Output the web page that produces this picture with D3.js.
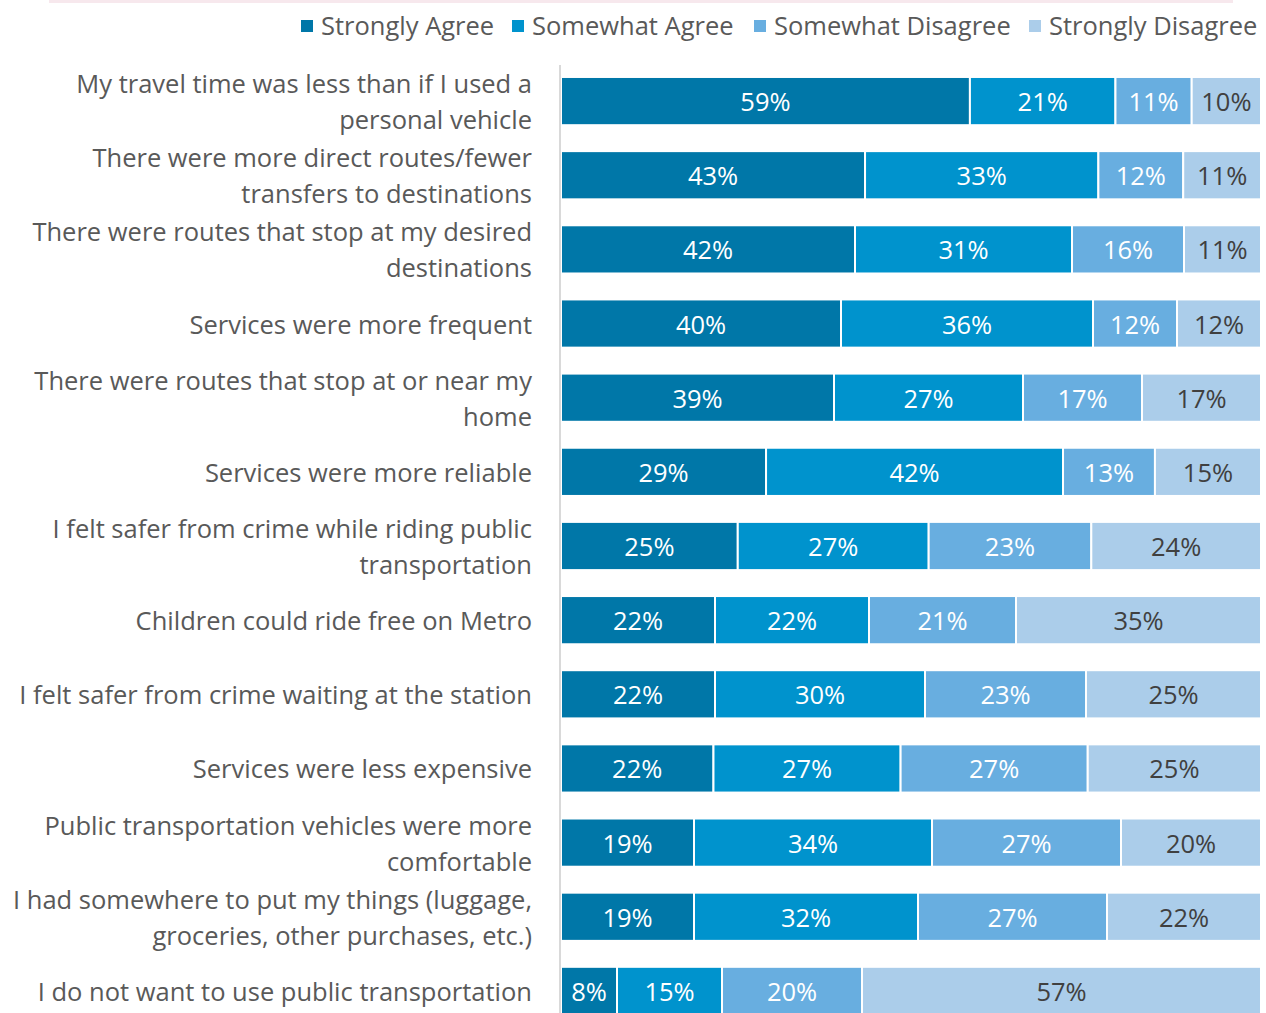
<!DOCTYPE html>
<html>
<head>
<meta charset="utf-8">
<script src="https://cdn.jsdelivr.net/npm/d3@7"></script>
<style>
  html, body { margin: 0; padding: 0; background: #fff; }
  svg { display: block; }
  text { font-family: "Open Sans", sans-serif; }
</style>
</head>
<body>
<svg id="chart" width="1266" height="1013"></svg>
<script>
// ---- data ----
const categories = [
  "My travel time was less than if I used a\npersonal vehicle",
  "There were more direct routes/fewer\ntransfers to destinations",
  "There were routes that stop at my desired\ndestinations",
  "Services were more frequent",
  "There were routes that stop at or near my\nhome",
  "Services were more reliable",
  "I felt safer from crime while riding public\ntransportation",
  "Children could ride free on Metro",
  "I felt safer from crime waiting at the station",
  "Services were less expensive",
  "Public transportation vehicles were more\ncomfortable",
  "I had somewhere to put my things (luggage,\ngroceries, other purchases, etc.)",
  "I do not want to use public transportation"
];
const seriesNames = ["Strongly Agree", "Somewhat Agree", "Somewhat Disagree", "Strongly Disagree"];
const stronglyAgree    = [59, 43, 42, 40, 39, 29, 25, 22, 22, 22, 19, 19, 8];
const somewhatAgree    = [21, 33, 31, 36, 27, 42, 27, 22, 30, 27, 34, 32, 15];
const somewhatDisagree = [11, 12, 16, 12, 17, 13, 23, 21, 23, 27, 27, 27, 20];
const stronglyDisagree = [10, 11, 11, 12, 17, 15, 24, 35, 25, 25, 20, 22, 57];
const colors = ["#0077a8", "#0093cd", "#68aee0", "#abcdea"];
const labelColors = ["#ffffff", "#ffffff", "#ffffff", "#404040"];

// ---- build table ----
const table = categories.map((c, i) => ({
  category: c,
  "Strongly Agree": stronglyAgree[i],
  "Somewhat Agree": somewhatAgree[i],
  "Somewhat Disagree": somewhatDisagree[i],
  "Strongly Disagree": stronglyDisagree[i]
}));

const stack = d3.stack().keys(seriesNames).offset(d3.stackOffsetExpand);
const layers = stack(table);

const svg = d3.select("#chart");
const plotLeft = 561, plotRight = 1261;
const FS = 25.5;

const x = d3.scaleLinear().domain([0, 1]).range([plotLeft, plotRight]);
const y = d3.scaleBand().domain(categories).range([64, 1028])
  .paddingInner(0.35).paddingOuter(0.175);

// top decorative band
svg.append("rect").attr("x", 49).attr("y", 0).attr("width", 1184).attr("height", 3)
  .attr("fill", "#f7e8ed");

// bars
const g = svg.append("g");
layers.forEach((layer, si) => {
  const lg = g.append("g");
  lg.selectAll("rect").data(layer).join("rect")
    .attr("x", d => x(d[0]))
    .attr("y", d => y(d.data.category))
    .attr("width", d => Math.max(0, x(d[1]) - x(d[0])))
    .attr("height", y.bandwidth())
    .attr("fill", colors[si])
    .attr("stroke", "#ffffff")
    .attr("stroke-width", 2);
  lg.selectAll("text").data(layer).join("text")
    .attr("x", d => (x(d[0]) + x(d[1])) / 2)
    .attr("y", d => y(d.data.category) + y.bandwidth() / 2)
    .attr("text-anchor", "middle")
    .attr("dominant-baseline", "central")
    .attr("font-size", FS)
    .attr("fill", labelColors[si])
    .text(d => d.data[seriesNames[si]] + "%");
});

// axis line (category axis)
const yAxis = d3.axisLeft(y).tickSize(0).tickFormat("");
const ax = svg.append("g").attr("transform", `translate(${plotLeft - 1},0)`).call(yAxis);
ax.select(".domain").attr("stroke", "#d9d9d9").attr("stroke-width", 2)
  .attr("d", `M0,65V1013`);

// category labels
const lineH = 36;
categories.forEach(c => {
  const lines = c.split("\n");
  const cy = y(c) + y.bandwidth() / 2;
  const t = svg.append("text")
    .attr("text-anchor", "end")
    .attr("font-size", FS)
    .attr("fill", "#595959");
  lines.forEach((ln, k) => {
    t.append("tspan")
      .attr("x", 532)
      .attr("y", cy + (k - (lines.length - 1) / 2) * lineH)
      .attr("dominant-baseline", "central")
      .text(ln);
  });
});

// legend
const legendX = [301, 512, 754, 1029];
const legend = svg.append("g");
seriesNames.forEach((s, i) => {
  legend.append("rect").attr("x", legendX[i]).attr("y", 20).attr("width", 12).attr("height", 12)
    .attr("fill", colors[i]);
  legend.append("text").attr("x", legendX[i] + 20).attr("y", 25)
    .attr("dominant-baseline", "central")
    .attr("font-size", FS).attr("fill", "#595959").text(s);
});
</script>
</body>
</html>
